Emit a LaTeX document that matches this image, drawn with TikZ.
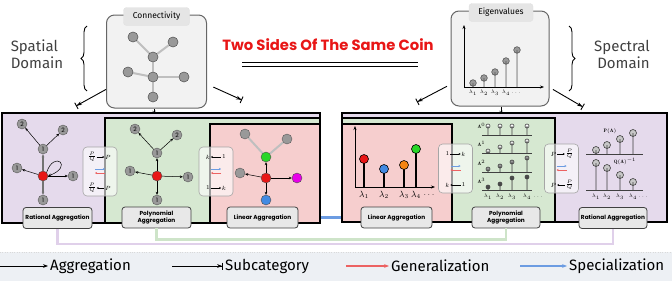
\documentclass[tikz,border=0pt]{standalone}
\usepackage{fontspec}
\setsansfont{Poppins}
\newfontfamily\medfont{Fira Sans}
\usepackage{xcolor}
\definecolor{purp}{RGB}{229,218,236}
\definecolor{grn}{RGB}{214,232,209}
\definecolor{rdp}{RGB}{246,206,206}
\definecolor{legbg}{RGB}{237,240,244}
\definecolor{genred}{RGB}{236,98,98}
\definecolor{specblue}{RGB}{108,156,226}
\definecolor{dotred}{RGB}{232,22,22}
\definecolor{dotblue}{RGB}{66,138,226}
\definecolor{dotorange}{RGB}{246,132,18}
\definecolor{dotgreen}{RGB}{40,214,40}
\definecolor{dotmag}{RGB}{232,0,232}
\definecolor{txtgrey}{RGB}{64,64,64}
\definecolor{ratline}{RGB}{224,208,234}
\definecolor{polyline}{RGB}{206,228,201}
\usepackage{tikz}
\usetikzlibrary{arrows.meta,positioning,calc,decorations.pathreplacing,backgrounds}
\tikzset{
  panel/.style={draw=black, line width=1.1pt},
  bigbox/.style={draw=black!60, fill=black!5, rounded corners=8pt, line width=1pt},
  tabbox/.style={draw=black!12, fill=black!10, rounded corners=3pt, minimum width=66, minimum height=18, inner sep=1pt, font=\medfont\fontsize{8.5}{9}\selectfont},
  aggbox/.style={draw=black!75, fill=black!9, rounded corners=3pt, line width=.8pt, align=center, minimum height=21, inner sep=1pt, font=\sffamily\bfseries\fontsize{5.8}{6.8}\selectfont},
  card/.style={draw=black!35, fill=white, fill opacity=.6, rounded corners=4pt, minimum width=34, minimum height=49, line width=.6pt},
  ctxt/.style={inner sep=.6pt, font=\fontsize{6}{7}\selectfont},
  gnode/.style={circle, draw=black!65, fill=black!40, minimum size=10, inner sep=0pt, font=\sffamily\fontsize{6}{6}\selectfont},
  cnode/.style={circle, draw=black!70, minimum size=10, inner sep=0pt},
  treeln/.style={draw=black!25, line width=2pt},
  ed/.style={-{Stealth[length=3pt, width=2.6pt]}, line width=.5pt},
  edthick/.style={ed, draw=black!55, line width=1.1pt},
  aggarr/.style={-{Stealth[length=5pt]}, line width=.9pt},
  subarr/.style={-{Stealth[length=5pt] Bar[width=7pt]}, line width=.9pt},
  midarr/.style={-{Stealth[length=4pt, sep=1.5pt] Bar[width=11pt, line width=1.8pt]}, line width=.9pt},
  cardr/.style={-{Stealth[length=2pt, width=2pt]}, line width=.4pt},
  cardl/.style={{Stealth[length=2pt, width=2pt]}-, line width=.4pt},
  genarr/.style={-{Stealth[length=2pt, width=2pt]}, draw=genred, line width=.5pt},
  specarr/.style={-{Stealth[length=2pt, width=2pt]}, draw=specblue, line width=.5pt},
  axarr/.style={-{Stealth[length=4pt]}, line width=.9pt},
  stemln/.style={line width=.6pt, draw=black!75},
  lam/.style={inner sep=0pt, font=\fontsize{5}{5}\selectfont},
  biglam/.style={inner sep=0pt, font=\fontsize{9}{9}\selectfont},
  legtxt/.style={anchor=west, inner sep=2pt, font=\medfont\fontsize{15}{17}\selectfont}
}
\newcommand{\swapcard}[8]{%
  \node[card] (#1) at (#2) {};
  \node[ctxt] (#1tl) at ($(#1)+(-8,-14.5)$) {#3};
  \node[ctxt] (#1tr) at ($(#1)+(8,-14.5)$) {#4};
  \draw[#5] (#1tl) -- (#1tr);
  \coordinate (#1bl) at ($(#1)+(-5,-2.5)$);
  \coordinate (#1br) at ($(#1)+(5,-2.5)$);
  \draw[specarr] (#1bl) -- (#1br);
  \coordinate (#1rl) at ($(#1)+(-5,1.5)$);
  \coordinate (#1rr) at ($(#1)+(5,1.5)$);
  \draw[genarr] (#1rr) -- (#1rl);
  \node[ctxt] (#1dl) at ($(#1)+(-8,16.5)$) {#6};
  \node[ctxt] (#1dr) at ($(#1)+(8,16.5)$) {#7};
  \draw[#8] (#1dl) -- (#1dr);
}

\begin{document}
\begin{tikzpicture}[x=1pt, y=-1pt]
  \useasboundingbox (0,0) rectangle (672,281);

  \node[font=\sffamily\bfseries\fontsize{14.8}{16}\selectfont, text=dotred] (title) at (328,45) {Two Sides Of The Same Coin};
  \draw[line width=1.4pt, double=white, double distance=2.2pt] (242,64.5) -- (418,64.5);
  \node[align=left, text=txtgrey, font=\medfont\fontsize{15}{17}\selectfont] (spat) at (37,54) {Spatial\\Domain};
  \node[align=right, text=txtgrey, font=\medfont\fontsize{15}{17}\selectfont] (spec) at (622,54) {Spectral\\Domain};
  \draw[decorate, decoration={brace, amplitude=6pt}, line width=.9pt] (87,91) -- (87,26);
  \draw[decorate, decoration={brace, amplitude=6pt}, line width=.9pt] (569,26) -- (569,91);

  \node[bigbox, minimum width=100, minimum height=93] (conn) at (156.5,61.5) {};
  \node[tabbox] (ctab) at ($(conn.north)+(0,2)$) {Connectivity};
  \node[gnode] (t1) at (133,37) {};
  \node[gnode] (t2) at (173,42) {};
  \node[gnode] (t3) at (153,57) {};
  \node[gnode] (t4) at (128,72) {};
  \node[gnode] (t5) at (153,77) {};
  \node[gnode] (t6) at (184,77) {};
  \node[gnode] (t7) at (153,97) {};
  \foreach \a/\b in {t3/t1, t3/t2, t3/t5, t5/t4, t5/t6, t5/t7}
    \draw[treeln] (\a) -- (\b);
  \foreach \t in {t1,t2,t3,t4,t5,t6,t7}
    \node[gnode] at (\t) {};

  \node[bigbox, minimum width=98, minimum height=95] (eig) at (500,58.5) {};
  \node[tabbox, minimum width=64] (etab) at ($(eig.north)+(1,2)$) {Eigenvalues};
  \coordinate (eo) at (464,87);
  \coordinate (ey) at (464,25);
  \coordinate (ex) at (544,87);
  \draw[axarr, line width=.7pt] (eo) -- (ey);
  \draw[axarr, line width=.7pt] (eo) -- (ex);
  \foreach \x/\h in {473/83, 484/78, 495/72, 506/61, 517/50}
    \draw[stemln] (\x,87) -- (\x,\h) [fill=black!40, draw=black!65] (\x,\h) circle (3.3);
  \foreach \x/\n in {473/1, 484/2, 495/3, 506/4}
    \node[lam] (e\n) at (\x,93) {$\lambda_{\n}$};
  \node[lam] (edots) at (516,93) {$\dots$};

  \coordinate (cl) at (76,106);
  \coordinate (cr) at (242,100);
  \coordinate (cm) at (154,118);
  \draw[subarr] (conn) -- (cl);
  \draw[subarr, shorten <=7pt] (conn) -- (cr);
  \draw[midarr] (conn.south -| cm) -- (cm);
  \coordinate (el) at (417,102);
  \coordinate (er) at (583,107);
  \coordinate (em) at (501,118);
  \draw[subarr, shorten <=4pt] (eig) -- (el);
  \draw[subarr, shorten <=4pt] (eig) -- (er);
  \draw[midarr] (eig.south -| em) -- (em);

  \draw[panel, fill=purp] (2,113) rectangle (320,223);
  \draw[panel, fill=grn] (105,118) rectangle (320,223);
  \draw[panel, fill=rdp] (210,124) rectangle (320,223);
  \draw[panel, fill=purp] (342,113) rectangle (667,222);
  \draw[panel, fill=grn] (342,118) rectangle (555,222);
  \draw[panel, fill=rdp] (342,124) rectangle (452,222);

  % spatial, rational
  \node[cnode, fill=dotred] (pr) at (43,176) {};
  \node[gnode] (pa) at (43,149) {1};
  \node[gnode] (pb) at (22,124) {2};
  \node[gnode] (pc) at (63,130) {2};
  \node[gnode] (pd) at (17,168) {1};
  \node[gnode] (pe) at (73,176) {1};
  \node[gnode] (pf) at (43,200) {1};
  \draw[edthick] (pr) -- (pa);
  \draw[edthick] (pr) -- (pf);
  \draw[ed] (pr) -- (pd);
  \draw[ed] (pr) -- (pe);
  \draw[ed] (pa) -- (pb);
  \draw[ed] (pa) -- (pc);
  \draw[ed] (pr.north east) .. controls (54,150) and (74,166) .. (pr.east);
  \swapcard{ca}{100,171.5}{$\frac{P}{Q}$}{$P$}{cardr}{$\frac{P}{Q}$}{$P$}{cardl}

  % spatial, polynomial
  \node[cnode, fill=dotred] (gr) at (157,176) {};
  \node[gnode] (ga) at (157,153) {1};
  \node[gnode] (gb) at (135,129) {2};
  \node[gnode] (gc) at (177,135) {2};
  \node[gnode] (gd) at (130,171) {1};
  \node[gnode] (ge) at (188,177) {1};
  \node[gnode] (gf) at (157,200) {1};
  \foreach \t in {ga,gd,ge,gf}
    \draw[ed] (gr) -- (\t);
  \draw[ed] (ga) -- (gb);
  \draw[ed] (ga) -- (gc);
  \swapcard{cb}{216,171.5}{$k$}{$1$}{cardl}{$1$}{$k$}{cardr}

  % spatial, linear
  \node[cnode, fill=dotred] (lr) at (266,178) {};
  \node[cnode, fill=dotgreen] (lg) at (266,157) {};
  \node[gnode] (la) at (245,134) {};
  \node[gnode] (lb) at (287,139) {};
  \node[gnode] (lc) at (240,173) {};
  \node[cnode, fill=dotmag] (lm) at (297,178) {};
  \node[cnode, fill=dotblue] (lbl) at (266,200) {};
  \draw[treeln] (lg) -- (la);
  \draw[treeln] (lg) -- (lb);
  \foreach \t in {lg,lc,lm,lbl}
    \draw[ed] (lr) -- (\t);

  % spectral, linear
  \coordinate (so) at (355,187);
  \coordinate (sy) at (355,126);
  \coordinate (sx) at (435,187);
  \draw[axarr] (so) -- (sy);
  \draw[axarr] (so) -- (sx);
  \foreach \x/\h/\c/\n in {364/159/dotred/1, 384/169/dotblue/2, 404/165/dotorange/3, 416/149/dotgreen/4} {
    \draw[line width=1.1pt] (\x,187) -- (\x,\h);
    \draw[fill=\c, line width=.6pt] (\x,\h) circle (4.5);
    \node[biglam] (s\n) at (\x,195) {$\lambda_{\n}$};
  }
  \node[biglam] (sdots) at (429,195) {$\dots$};
  \swapcard{cc}{455.5,168.5}{$1$}{$k$}{cardr}{$k$}{$1$}{cardl}

  % spectral, polynomial
  \foreach \yb/\fl/\hA/\hB/\hC/\hD [count=\r from 0] in {135/white/9/9/9/9, 153/black!8/2/6/10/12, 172/black!40/3/6/10/14, 190/black!70/3/6/12/13} {
    \draw[stemln] (482,\yb) -- (532,\yb);
    \node[lam, anchor=east] (a\r) at (485.5,\yb-9) {$\mathbf{A}^{\r}$};
    \foreach \x/\h in {488/\hA, 500/\hB, 512/\hC, 527/\hD}
      \draw[stemln] (\x,\yb) -- (\x,\yb-\h) [fill=\fl] (\x,\yb-\h) circle (2);
  }
  \foreach \x/\n in {488/1, 500/2, 512/3, 527/4}
    \node[lam] (p\n) at (\x,197) {$\lambda_{\n}$};
  \node[lam] (pdots) at (538,197) {$\dots$};

  % spectral, rational
  \swapcard{cd}{561.5,168.5}{$P$}{$\frac{P}{Q}$}{cardr}{$P$}{$\frac{P}{Q}$}{cardl}
  \draw[stemln] (586,154) -- (643,154);
  \draw[stemln] (586,190) -- (643,190);
  \foreach \x/\hp/\hq in {596/150/163, 607/145/168, 620/139/175, 633/133/182} {
    \draw[stemln] (\x,154) -- (\x,\hp) [fill=black!22] (\x,\hp) circle (3.5);
    \draw[stemln] (\x,190) -- (\x,\hq) [fill=black!22] (\x,\hq) circle (3.5);
  }
  \node[lam] (pa1) at (610,131) {$\mathbf{P}(\mathbf{A})$};
  \node[lam] (qa1) at (625,161) {$\mathbf{Q}(\mathbf{A})^{-1}$};
  \foreach \x/\n in {596/1, 607/2, 620/3, 633/4}
    \node[lam] (q\n) at (\x,197) {$\lambda_{\n}$};
  \node[lam] (qdots) at (643,197) {$\dots$};

  \node[aggbox, minimum width=69] (lrat) at (57.5,218) {Rational Aggregation};
  \node[aggbox, minimum width=69] (lpoly) at (156.5,217.5) {Polynomial\\Aggregation};
  \node[aggbox, minimum width=71] (llin) at (262.5,217.5) {Linear Aggregation};
  \node[aggbox, minimum width=71] (rlin) at (396.5,217.5) {Linear Aggregation};
  \node[aggbox, minimum width=68] (rpoly) at (506,217.5) {Polynomial\\Aggregation};
  \node[aggbox, minimum width=68] (rrat) at (613,218) {Rational Aggregation};
  \draw[ratline, line width=2.5pt] (lrat.south) -- ++(0,15) -| (rrat.south);
  \draw[polyline, line width=2.2pt] (lpoly.south) -- ++(0,11) -| (rpoly.south);

  \node[legtxt] (k1) at (48,266) {Aggregation};
  \node[legtxt] (k2) at (223,266) {Subcategory};
  \node[legtxt] (k3) at (389,266) {Generalization};
  \node[legtxt] (k4) at (567,266) {Specialization};
  \coordinate (k1s) at (0,266);
  \coordinate (k2s) at (172,266);
  \coordinate (k3s) at (346,266);
  \coordinate (k4s) at (520,266);
  \draw[aggarr] (k1s) -- (k1);
  \draw[subarr] (k2s) -- (k2);
  \draw[aggarr, draw=genred, line width=1.3pt] (k3s) -- (k3);
  \draw[aggarr, draw=specblue, line width=1.3pt] (k4s) -- (k4);

  \begin{scope}[on background layer]
    \fill[legbg] (0,252) rectangle (672,281);
    \draw[black!15, dotted] (0,252) -- (672,252);
    \draw[specblue, line width=2.2pt] (llin) -- (rlin);
  \end{scope}
\end{tikzpicture}
\end{document}
